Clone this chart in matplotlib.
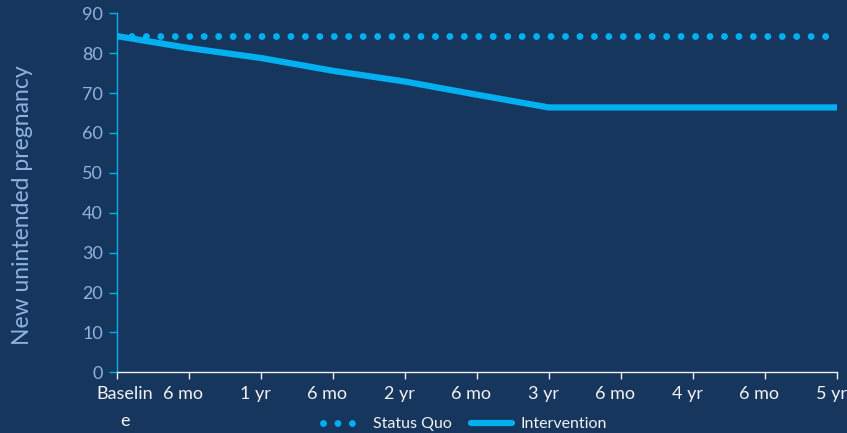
import matplotlib
matplotlib.use("Agg")
import matplotlib.pyplot as plt
import matplotlib.transforms as mtransforms

categories = ["Baselin\ne", "6 mo", "1 yr", "6 mo", "2 yr", "6 mo", "3 yr", "6 mo", "4 yr", "6 mo", "5 yr"]
status_quo = [84.3, 84.3, 84.3, 84.3, 84.3, 84.3, 84.3, 84.3, 84.3, 84.3, 84.3]
intervention = [84.3, 81.3, 78.8, 75.6, 72.9, 69.6, 66.4, 66.4, 66.4, 66.4, 66.4]
y_ticks = [0, 10, 20, 30, 40, 50, 60, 70, 80, 90]

BG = "#17365D"
LINE = "#00B0F0"
YTXT = "#8DB3E2"
XTXT = "#F2F2F2"

plt.rcParams['font.family'] = ['Lato', 'DejaVu Sans']

fig = plt.figure(figsize=(8.47, 4.33), dpi=100, facecolor=BG)
ax = fig.add_axes([116.7/847, (433-372.3)/433, 720/847, 359/433], facecolor=BG)

x = list(range(len(categories)))
ax.plot(x, status_quo, color=LINE, linewidth=5.0, linestyle=(0, (0.001, 2.08)),
        dash_capstyle='round', label="Status Quo", zorder=3)
ax.plot(x, intervention, color=LINE, linewidth=4.5, solid_capstyle='round',
        solid_joinstyle='round', label="Intervention", zorder=3)

ax.set_xlim(0, len(categories) - 1)
ax.set_ylim(0, 90)
ax.set_yticks(y_ticks)
ax.set_xticks(x)
ax.set_xticklabels(categories, color=XTXT, fontsize=13, linespacing=1.85)
ax.tick_params(axis='y', colors=LINE, labelcolor=YTXT, labelsize=13, length=6, width=1, pad=4)
ax.tick_params(axis='x', colors=XTXT, labelcolor=XTXT, length=5, width=1, pad=5)

for i, lab in enumerate(ax.get_xticklabels()):
    dx = 6/72 if i == 0 else -4/72
    lab.set_transform(lab.get_transform() + mtransforms.ScaledTranslation(dx, 0, fig.dpi_scale_trans))
    lab.set_verticalalignment('top')

for s in ['top', 'right']:
    ax.spines[s].set_visible(False)
ax.spines['left'].set_color(LINE)
ax.spines['left'].set_linewidth(1)
ax.spines['bottom'].set_color(XTXT)
ax.spines['bottom'].set_linewidth(1)

fig.text(23/847, 1 - 205/433, "New unintended pregnancy", rotation=90, color=YTXT,
         fontsize=16.5, ha='center', va='center')

leg = fig.legend(loc='center', bbox_to_anchor=(465/847, 1 - 424/433), ncol=2,
                 frameon=False, fontsize=11.5, handlelength=2.6, columnspacing=1.2,
                 handletextpad=0.5, borderaxespad=0)
for t in leg.get_texts():
    t.set_color(XTXT)

fig.savefig("out.png", dpi=100, facecolor=BG)
